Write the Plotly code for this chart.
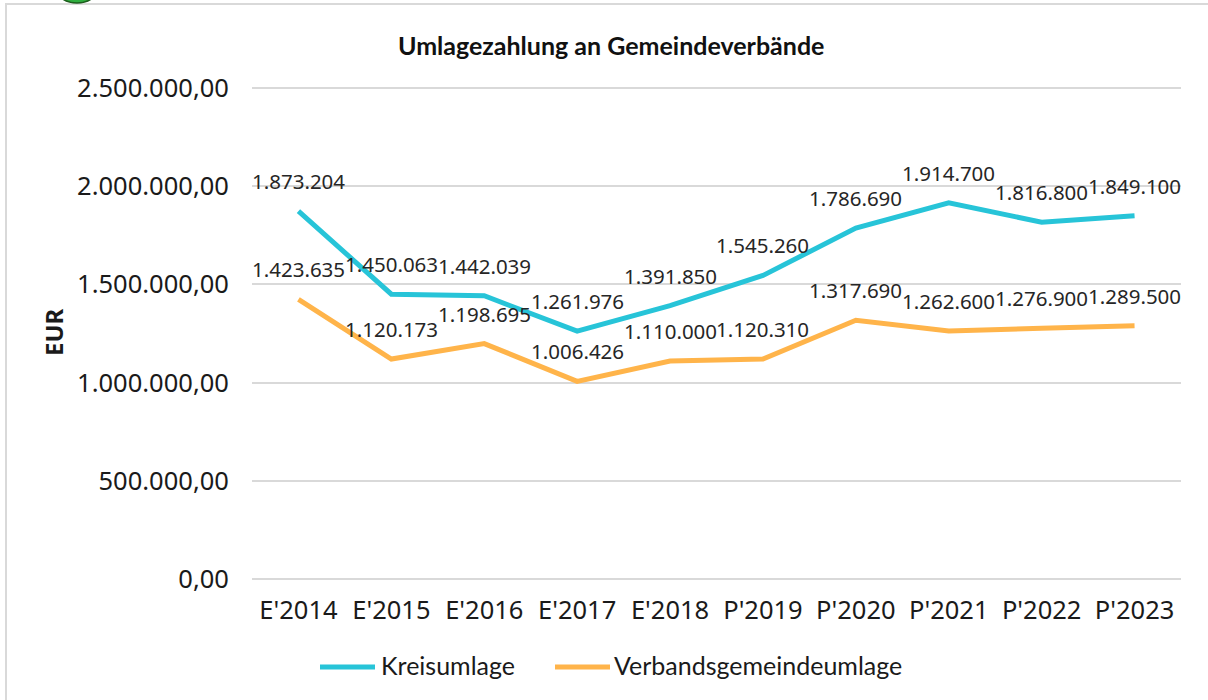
import plotly.graph_objects as go

categories = ["E'2014", "E'2015", "E'2016", "E'2017", "E'2018", "P'2019", "P'2020", "P'2021", "P'2022", "P'2023"]
kreisumlage = [1873204, 1450063, 1442039, 1261976, 1391850, 1545260, 1786690, 1914700, 1816800, 1849100]
verbandsgemeindeumlage = [1423635, 1120173, 1198695, 1006426, 1110000, 1120310, 1317690, 1262600, 1276900, 1289500]
y_ticks = [0, 500000, 1000000, 1500000, 2000000, 2500000]
y_tick_labels = ["0,00", "500.000,00", "1.000.000,00", "1.500.000,00", "2.000.000,00", "2.500.000,00"]
series_names = ["Kreisumlage", "Verbandsgemeindeumlage"]
series_colors = ["#27C4D8", "#FFB44A"]

W, H = 1208, 700
L, R, T, B = 252, 1181, 84, 583


def px2x(px):
    return (px - L) / (R - L)


def py2y(py):
    return (B - py) / (B - T)


def de_int(v):
    return f"{v:,}".replace(",", ".")


fig = go.Figure()
annotations = []
for name, vals, col in zip(series_names, [kreisumlage, verbandsgemeindeumlage], series_colors):
    fig.add_trace(go.Scatter(x=categories, y=vals, mode="lines", name=name,
                             line=dict(color=col, width=5), showlegend=False,
                             hoverinfo="x+y"))
    for c, v in zip(categories, vals):
        annotations.append(dict(x=c, y=v, xref="x", yref="y", text=de_int(v), showarrow=False,
                                yshift=30, xanchor="center", yanchor="middle",
                                font=dict(family="Noto Sans", size=20.5, color="#262626")))

# axis title
annotations.append(dict(x=px2x(53), y=py2y(332), xref="paper", yref="paper", text="<b>EUR</b>",
                        showarrow=False, textangle=-90, xanchor="center", yanchor="middle",
                        font=dict(family="Noto Sans", size=24, color="#1a1a1a")))
# title
annotations.append(dict(x=px2x(611), y=py2y(45), xref="paper", yref="paper",
                        text="<b>Umlagezahlung an Gemeindeverbände</b>", showarrow=False,
                        xanchor="center", yanchor="middle",
                        font=dict(family="Lato", size=25, color="#111111")))

shapes = []
# outer border
shapes.append(dict(type="rect", xref="paper", yref="paper", x0=px2x(6), x1=px2x(1220),
                   y0=py2y(710), y1=py2y(4), line=dict(color="#d9d9d9", width=2),
                   fillcolor="rgba(0,0,0,0)", layer="below"))
# logo fragment
shapes.append(dict(type="circle", xref="paper", yref="paper", x0=px2x(55), x1=px2x(99),
                   y0=py2y(3), y1=py2y(-30), line=dict(color="#1d5e1d", width=1.5),
                   fillcolor="#2fae3f"))

# manual legend
legend_items = [(320, 375, 379), (555, 610, 612)]
for (lx0, lx1, tx), name, col in zip(legend_items, series_names, series_colors):
    shapes.append(dict(type="line", xref="paper", yref="paper", x0=px2x(lx0), x1=px2x(lx1),
                       y0=py2y(667), y1=py2y(667), line=dict(color=col, width=5)))
    annotations.append(dict(x=px2x(tx), y=py2y(665), xref="paper", yref="paper", text=name,
                            showarrow=False, xanchor="left", yanchor="middle",
                            font=dict(family="Lato", size=25, color="#1a1a1a")))

fig.update_layout(
    width=W, height=H,
    margin=dict(l=L, r=W - R, t=T, b=H - B, autoexpand=False),
    paper_bgcolor="white", plot_bgcolor="white",
    annotations=annotations, shapes=shapes,
    xaxis=dict(type="category", range=[-0.5, len(categories) - 0.5], showgrid=False,
               showline=False, zeroline=False, ticks="outside", ticklen=4, tickcolor="rgba(0,0,0,0)",
               tickfont=dict(family="Noto Sans", size=25.5, color="#1a1a1a")),
    yaxis=dict(range=[-20000, 2520000], tickvals=y_ticks, ticktext=y_tick_labels,
               showgrid=True, gridcolor="#d9d9d9", gridwidth=1.5,
               zeroline=True, zerolinecolor="#d9d9d9", zerolinewidth=1.5, showline=False,
               ticks="outside", ticklen=17, tickcolor="rgba(0,0,0,0)",
               tickfont=dict(family="Noto Sans", size=25.5, color="#1a1a1a")),
)

fig.write_html("out.html", config={"displayModeBar": False},
               post_script="document.body.style.margin='0';")
